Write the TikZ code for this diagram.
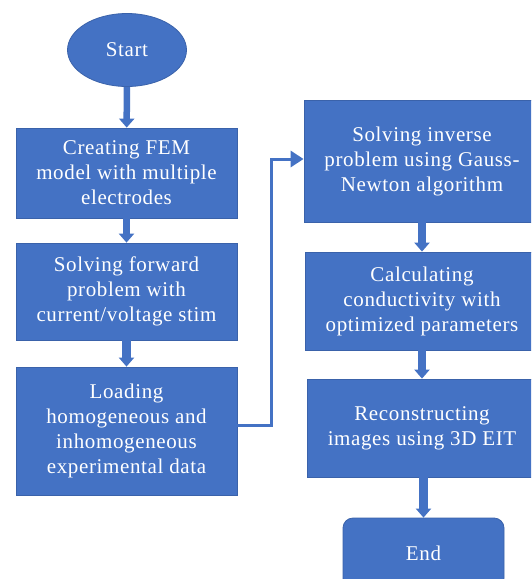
\documentclass[tikz,border=0pt]{standalone}
\usepackage{fontspec}
\setmainfont{Liberation Serif}
\newfontfamily\boxfont{Liberation Serif}[LetterSpace=3]
\usetikzlibrary{arrows.meta,shapes.geometric}
\definecolor{boxblue}{HTML}{4472C4}
\definecolor{edgeblue}{HTML}{3A62AA}
\begin{document}
\begin{tikzpicture}[x=1pt,y=-1pt,
  blk/.style={rectangle,fill=boxblue,draw=edgeblue,line width=0.8pt,text=white,
    align=center,inner sep=0pt,font=\boxfont\fontsize{21}{25}\selectfont},
  flow/.style={draw=boxblue,line width=#1,-{Triangle[width=15pt,length=9pt]}},
  flow/.default=6.5pt,
  link/.style={draw=boxblue,line width=3pt,-{Triangle[width=16pt,length=13pt]}}]
\clip (0,0) rectangle (531,579);
\fill[white] (0,0) rectangle (531,579);
\node[blk,ellipse,minimum width=119,minimum height=73] (start) at (127,50) {Start};
\node[blk,minimum width=221,minimum height=90] (b1) at (126.5,173)
  {Creating FEM\\model with multiple\\electrodes};
\node[blk,minimum width=221,minimum height=97] (b2) at (126.5,291.5)
  {Solving forward\\problem with\\current/voltage stim};
\node[blk,minimum width=221,minimum height=128] (b3) at (126.5,431)
  {Loading\\homogeneous and\\inhomogeneous\\experimental data};
\node[blk,minimum width=236,minimum height=122] (b4) at (422,161)
  {Solving inverse\\problem using Gauss-\\Newton algorithm};
\node[blk,minimum width=234,minimum height=98] (b5) at (422,301)
  {Calculating\\conductivity with\\optimized parameters};
\node[blk,minimum width=230,minimum height=98] (b6) at (422,428)
  {Reconstructing\\images using 3D EIT};
\node[blk,rounded corners=10pt,minimum width=161,minimum height=70] (end) at (423.5,553) {End};
\draw[flow] (start) -- (b1);
\draw[flow] (b1) -- (b2);
\draw[flow=9pt] (b2) -- (b3);
\draw[flow=7.5pt] (b4) -- (b5);
\draw[flow=8pt] (b5) -- (b6);
\draw[flow=9pt] (b6.south -| end) -- (end);
\coordinate (c1) at (271.5,425);
\coordinate (c2) at (271.5,159);
\draw[link] (b3.east |- c1) -- (c1) -- (c2) -- (c2 -| b4.west);
\end{tikzpicture}
\end{document}
